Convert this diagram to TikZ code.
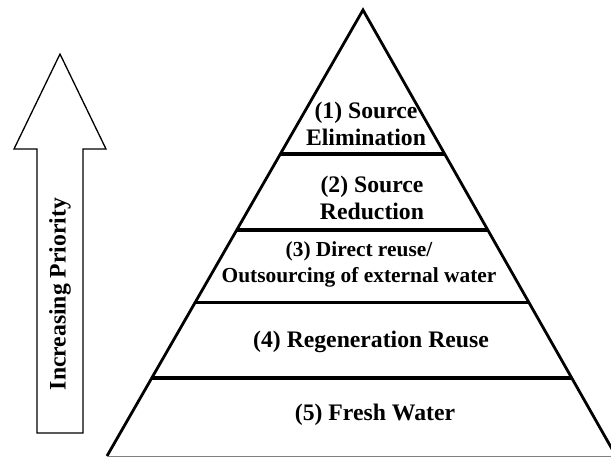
\documentclass[tikz,border=0pt]{standalone}
\usepackage{fontspec}
\setmainfont{Liberation Serif}
\usetikzlibrary{calc}
\begin{document}
\begin{tikzpicture}[x=1bp,y=-1bp,
  tri/.style={line width=2.8bp, line join=miter, black},
  sep/.style={line width=3.2bp, black},
  arr/.style={line width=1.3bp, line join=miter, black},
  lbl/.style={align=center, inner sep=0pt, font=\fontsize{23.7bp}{27bp}\selectfont\bfseries},
  lblsmall/.style={align=center, inner sep=0pt, font=\fontsize{21.4bp}{26bp}\selectfont\bfseries}]
\useasboundingbox (0,0) rectangle (611,457);
% pyramid
\coordinate (A) at (363,10);
\coordinate (BL) at (107,456);
\coordinate (BR) at (616,456);
\draw[tri] (BL) -- (A) -- (BR);
\draw[gray, line width=1bp] (BL) -- (BR);
% separators
\foreach \n/\t in {1/0.3229, 2/0.4933, 3/0.6558, 4/0.8251}{
  \coordinate (L\n) at ($(A)!\t!(BL)$);
  \coordinate (R\n) at ($(A)!\t!(BR)$);
  \draw[sep] (L\n) -- (R\n);
}
% labels
\node[lbl] (t1) at (366,124) {(1) Source\\Elimination};
\node[lbl] (t2) at (372,198) {(2) Source\\Reduction};
\node[lblsmall] (t3) at (359,264) {(3) Direct reuse/\\Outsourcing of external water};
\node[lbl] (t4) at (371,342) {(4) Regeneration Reuse};
\node[lbl] (t5) at (375,415) {(5) Fresh Water};
% arrow
\draw[arr] (37,433) -- (37,149) -- (14,149) -- (60,54) -- (106,149) -- (83,149) -- (83,433) -- cycle;
\node[lbl, rotate=90] (pri) at (60,294) {Increasing Priority};
\end{tikzpicture}
\end{document}
